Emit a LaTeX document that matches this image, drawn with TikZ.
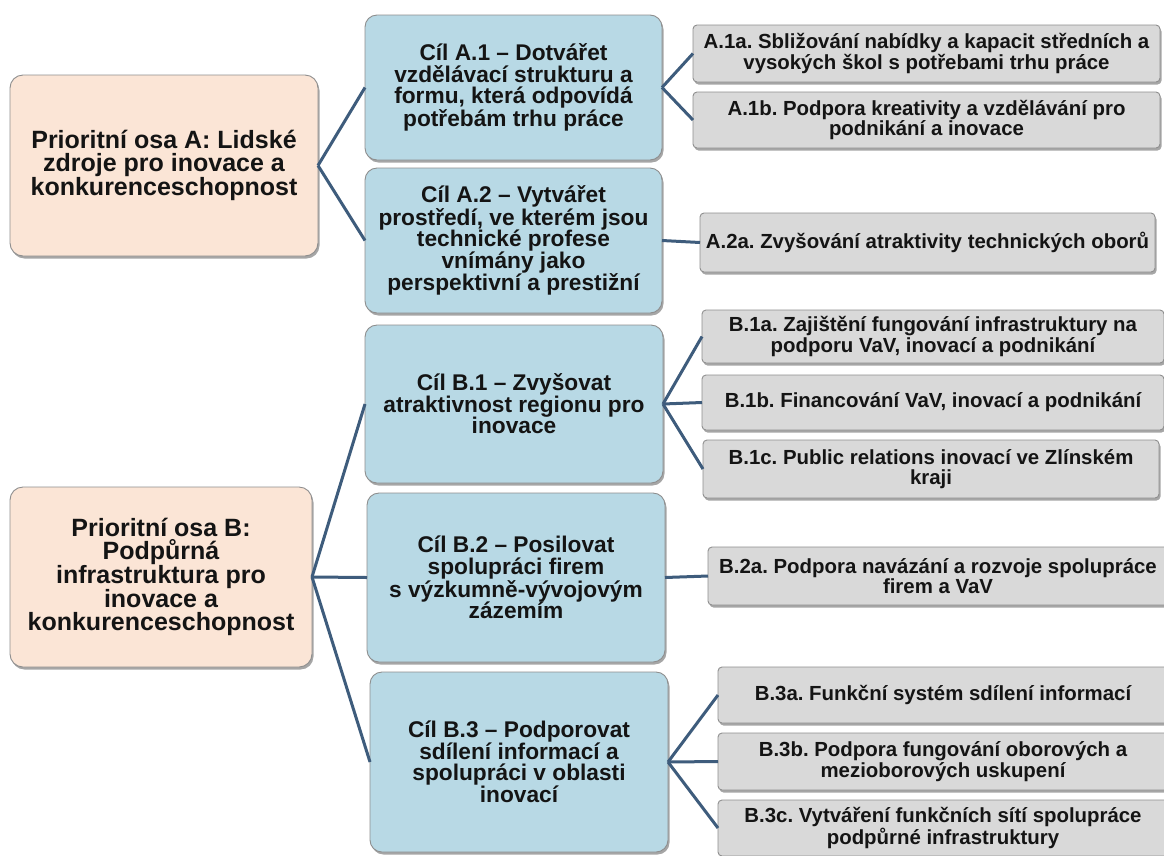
\documentclass[tikz,border=0pt]{standalone}
\usepackage{fontspec}
\setmainfont{Liberation Sans}
\frenchspacing
\usetikzlibrary{shadows}
\definecolor{peach}{HTML}{FBE5D6}
\definecolor{cblue}{HTML}{B8D9E5}
\definecolor{cgray}{HTML}{D9D9D9}
\definecolor{cline}{HTML}{3E5C7C}
\definecolor{cborder}{HTML}{8E8E8E}
\definecolor{ctext}{HTML}{141414}
\tikzset{
  base/.style={draw=cborder, line width=0.9pt, align=center, inner sep=0pt, outer sep=0pt,
    text=ctext, font=\bfseries,
    drop shadow={shadow xshift=1.5pt, shadow yshift=-2.5pt, opacity=0.35, fill=black}},
  axisbox/.style={base, fill=peach, rounded corners=13pt,
    font=\fontsize{25}{23}\selectfont\bfseries},
  goalbox/.style={base, fill=cblue, rounded corners=12pt,
    font=\fontsize{22.7}{21.5}\selectfont\bfseries},
  actbox/.style={base, fill=cgray, rounded corners=4pt,
    font=\fontsize{20.4}{20.5}\selectfont\bfseries},
  conn/.style={draw=cline, line width=3pt}
}
\begin{document}
\begin{tikzpicture}[x=1pt, y=-1pt]
\useasboundingbox (0,0) rectangle (1164,855);
\fill[white] (0,0) rectangle (1164,855);

% left column
\node[axisbox, minimum width=308pt, minimum height=181pt] (A) at (164,165.5)
  {Prioritní osa A: Lidské\\zdroje pro inovace a\\konkurenceschopnost};
\node[axisbox, minimum width=302pt, minimum height=180pt] (B) at (161,577)
  {Prioritní osa B:\\Podpůrná\\infrastruktura pro\\inovace a\\konkurenceschopnost};

% middle column
\node[goalbox, minimum width=297pt, minimum height=145pt] (A1) at (513.5,87.5)
  {Cíl A.1 – Dotvářet\\vzdělávací strukturu a\\formu, která odpovídá\\potřebám trhu práce};
\node[goalbox, minimum width=297pt, minimum height=145pt] (A2) at (513.5,240.5)
  {Cíl A.2 – Vytvářet\\prostředí, ve kterém jsou\\technické profese\\vnímány jako\\perspektivní a prestižní};
\node[goalbox, minimum width=298pt, minimum height=158pt] (B1) at (514,404)
  {Cíl B.1 – Zvyšovat\\atraktivnost regionu pro\\inovace};
\node[goalbox, minimum width=298pt, minimum height=169pt] (B2) at (516,577.5)
  {Cíl B.2 – Posilovat\\spolupráci firem\\s výzkumně-vývojovým\\zázemím};
\node[goalbox, minimum width=298pt, minimum height=180pt] (B3) at (519,762)
  {Cíl B.3 – Podporovat\\sdílení informací a\\spolupráci v oblasti\\inovací};

% right column
\node[actbox, minimum width=467pt, minimum height=57pt] (A1a) at (926.5,53.5)
  {A.1a. Sbližování nabídky a kapacit středních a\\vysokých škol s potřebami trhu práce};
\node[actbox, minimum width=467pt, minimum height=56pt] (A1b) at (926.5,120)
  {A.1b. Podpora kreativity a vzdělávání pro\\podnikání a inovace};
\node[actbox, minimum width=455pt, minimum height=59pt] (A2a) at (927.5,242.5)
  {A.2a. Zvyšování atraktivity technických oborů};
\node[actbox, minimum width=462pt, minimum height=53pt] (B1a) at (933,336.5)
  {B.1a. Zajištění fungování infrastruktury na\\podporu VaV, inovací a podnikání};
\node[actbox, minimum width=462pt, minimum height=55pt] (B1b) at (933,402.5)
  {B.1b. Financování VaV, inovací a podnikání};
\node[actbox, minimum width=456pt, minimum height=58pt] (B1c) at (931,469)
  {B.1c. Public relations inovací ve Zlínském\\kraji};
\node[actbox, minimum width=460pt, minimum height=58pt] (B2a) at (938,576)
  {B.2a. Podpora navázání a rozvoje spolupráce\\firem a VaV};
\node[actbox, minimum width=450pt, minimum height=56pt] (B3a) at (943,695)
  {B.3a. Funkční systém sdílení informací};
\node[actbox, minimum width=450pt, minimum height=57pt] (B3b) at (943,761.5)
  {B.3b. Podpora fungování oborových a\\mezioborových uskupení};
\node[actbox, minimum width=450pt, minimum height=56pt] (B3c) at (943,828)
  {B.3c. Vytváření funkčních sítí spolupráce\\podpůrné infrastruktury};

% connectors
\draw[conn] (A.east) -- (A1.west);
\draw[conn] (A.east) -- (A2.west);
\draw[conn] (B.east) -- (B1.west);
\draw[conn] (B.east) -- (B2.west);
\draw[conn] (B.east) -- (B3.west);
\draw[conn] (A1.east) -- (A1a.west);
\draw[conn] (A1.east) -- (A1b.west);
\draw[conn] (A2.east) -- (A2a.west);
\draw[conn] (B1.east) -- (B1a.west);
\draw[conn] (B1.east) -- (B1b.west);
\draw[conn] (B1.east) -- (B1c.west);
\draw[conn] (B2.east) -- (B2a.west);
\draw[conn] (B3.east) -- (B3a.west);
\draw[conn] (B3.east) -- (B3b.west);
\draw[conn] (B3.east) -- (B3c.west);
\end{tikzpicture}
\end{document}
